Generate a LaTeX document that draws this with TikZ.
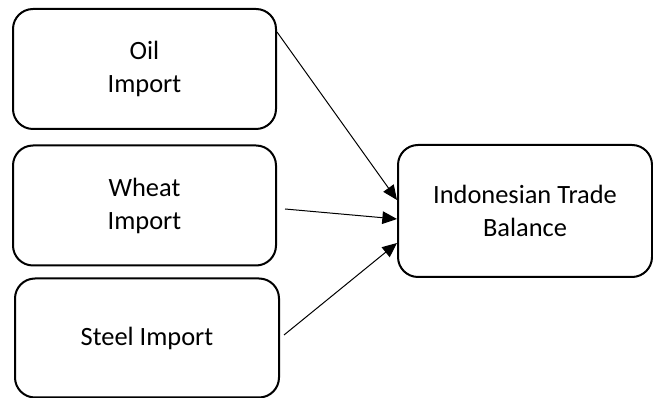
\documentclass[tikz,border=0pt]{standalone}
\usepackage{fontspec}
\setmainfont{Carlito}
\usetikzlibrary{arrows.meta}

\begin{document}
\begin{tikzpicture}[x=0.75pt, y=-0.75pt,
	box/.style={draw, rectangle, rounded corners=15pt, line width=1.5pt, align=center,
		font=\fontsize{19.8}{24.75}\selectfont, inner sep=0pt},
	>={Triangle[length=11pt, width=9.5pt]}]

\useasboundingbox (0,0) rectangle (653,398);

%import boxes
\node[box, minimum width=197.25pt, minimum height=90pt] (oil) at (144.5,69) {Oil\\Import};
\node[box, minimum width=197.25pt, minimum height=90pt] (wheat) at (144.5,205.5) {Wheat\\Import};
\node[box, minimum width=198pt, minimum height=89.25pt] (steel) at (147,338) {Steel Import};

%trade balance
\node[box, minimum width=190.5pt, minimum height=99pt] (bal) at (525,211) {Indonesian Trade\\Balance};

\draw[->, line width=0.75pt]([shift={(0,-37)}]oil.east) -- ([shift={(0,-11)}]bal.west);
\draw[->, line width=0.75pt]([shift={(8,3.5)}]wheat.east) -- ([shift={(0,8)}]bal.west);
\draw[->, line width=0.75pt]([shift={(4,-3)}]steel.east) -- ([shift={(0,32)}]bal.west);
\end{tikzpicture}
\end{document}
